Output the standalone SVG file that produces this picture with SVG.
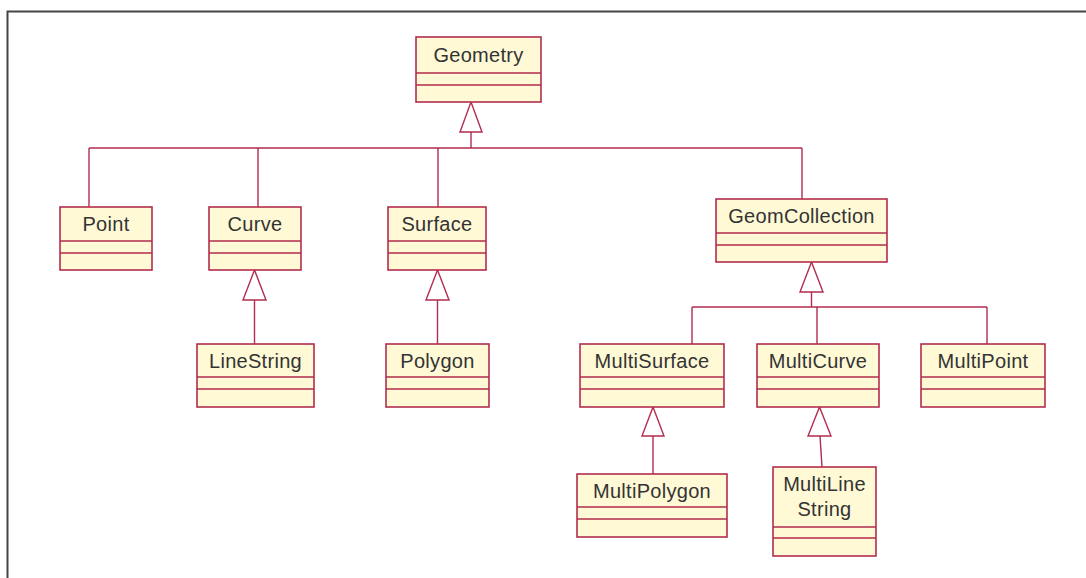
<svg xmlns="http://www.w3.org/2000/svg" width="1086" height="578" viewBox="0 0 1086 578">
<style>
.box{fill:#fff9d6;stroke:#b22d4f;stroke-width:1.6}
.div{stroke:#b22d4f;stroke-width:1.3;fill:none}
.t{font-family:"Liberation Sans",Arial,sans-serif;font-size:20px;letter-spacing:0.3px;fill:#333;text-anchor:middle}
.c{stroke:#b22d4f;stroke-width:1.4;fill:none}
.tri{stroke:#b22d4f;stroke-width:1.4;fill:#fff}
</style>
<rect width="1086" height="578" fill="#fff"/>
<path d="M7.5,578 V11.5 H1086" fill="none" stroke="#444" stroke-width="2"/>
<g id="connectors">
<path class="c" d="M471,132 V148 M89,148 H802 M89,148 V207 M258,148 V207 M438,148 V207 M802,148 V199"/>
<polygon class="tri" points="471,102 460,132 482,132"/>
<path class="c" d="M254.5,300 V344"/>
<polygon class="tri" points="254.5,270 243,300 266,300"/>
<path class="c" d="M437.5,300 V344"/>
<polygon class="tri" points="437.5,270 426,300 449,300"/>
<path class="c" d="M811.5,292 V307 M692,307 H987 M692,307 V344 M817,307 V344 M987,307 V344"/>
<polygon class="tri" points="811.5,262 800,292 823,292"/>
<path class="c" d="M653,436 V474"/>
<polygon class="tri" points="653,407 642,436 664,436"/>
<path class="c" d="M820,436 L822,467"/>
<polygon class="tri" points="819.5,407 808,436 831,436"/>
</g>
<g id="Geometry">
<rect class="box" x="416" y="37" width="125" height="65"/>
<path class="div" d="M416,73 H541 M416,85 H541"/>
<text class="t" x="478.5" y="62">Geometry</text>
</g>
<g id="Point">
<rect class="box" x="60" y="207" width="92" height="63"/>
<path class="div" d="M60,241 H152 M60,253 H152"/>
<text class="t" x="106" y="231">Point</text>
</g>
<g id="Curve">
<rect class="box" x="209" y="207" width="92" height="63"/>
<path class="div" d="M209,241 H301 M209,253 H301"/>
<text class="t" x="255" y="231">Curve</text>
</g>
<g id="Surface">
<rect class="box" x="388" y="207" width="98" height="63"/>
<path class="div" d="M388,241 H486 M388,253 H486"/>
<text class="t" x="437" y="231">Surface</text>
</g>
<g id="GeomCollection">
<rect class="box" x="716" y="199" width="171" height="63"/>
<path class="div" d="M716,233 H887 M716,245 H887"/>
<text class="t" x="801.5" y="223">GeomCollection</text>
</g>
<g id="LineString">
<rect class="box" x="197" y="344" width="117" height="63"/>
<path class="div" d="M197,377 H314 M197,389 H314"/>
<text class="t" x="255.5" y="368">LineString</text>
</g>
<g id="Polygon">
<rect class="box" x="386" y="344" width="103" height="63"/>
<path class="div" d="M386,377 H489 M386,389 H489"/>
<text class="t" x="437.5" y="368">Polygon</text>
</g>
<g id="MultiSurface">
<rect class="box" x="580" y="344" width="144" height="63"/>
<path class="div" d="M580,377 H724 M580,389 H724"/>
<text class="t" x="652" y="368">MultiSurface</text>
</g>
<g id="MultiCurve">
<rect class="box" x="757" y="344" width="122" height="63"/>
<path class="div" d="M757,377 H879 M757,389 H879"/>
<text class="t" x="818" y="368">MultiCurve</text>
</g>
<g id="MultiPoint">
<rect class="box" x="921" y="344" width="124" height="63"/>
<path class="div" d="M921,377 H1045 M921,389 H1045"/>
<text class="t" x="983" y="368">MultiPoint</text>
</g>
<g id="MultiPolygon">
<rect class="box" x="577" y="474" width="150" height="63"/>
<path class="div" d="M577,507 H727 M577,519 H727"/>
<text class="t" x="652" y="498">MultiPolygon</text>
</g>
<g id="MultiLineString">
<rect class="box" x="773" y="467" width="103" height="89"/>
<path class="div" d="M773,527 H876 M773,538 H876"/>
<text class="t" x="824.5" y="491">MultiLine</text>
<text class="t" x="824.5" y="516">String</text>
</g>
</svg>
